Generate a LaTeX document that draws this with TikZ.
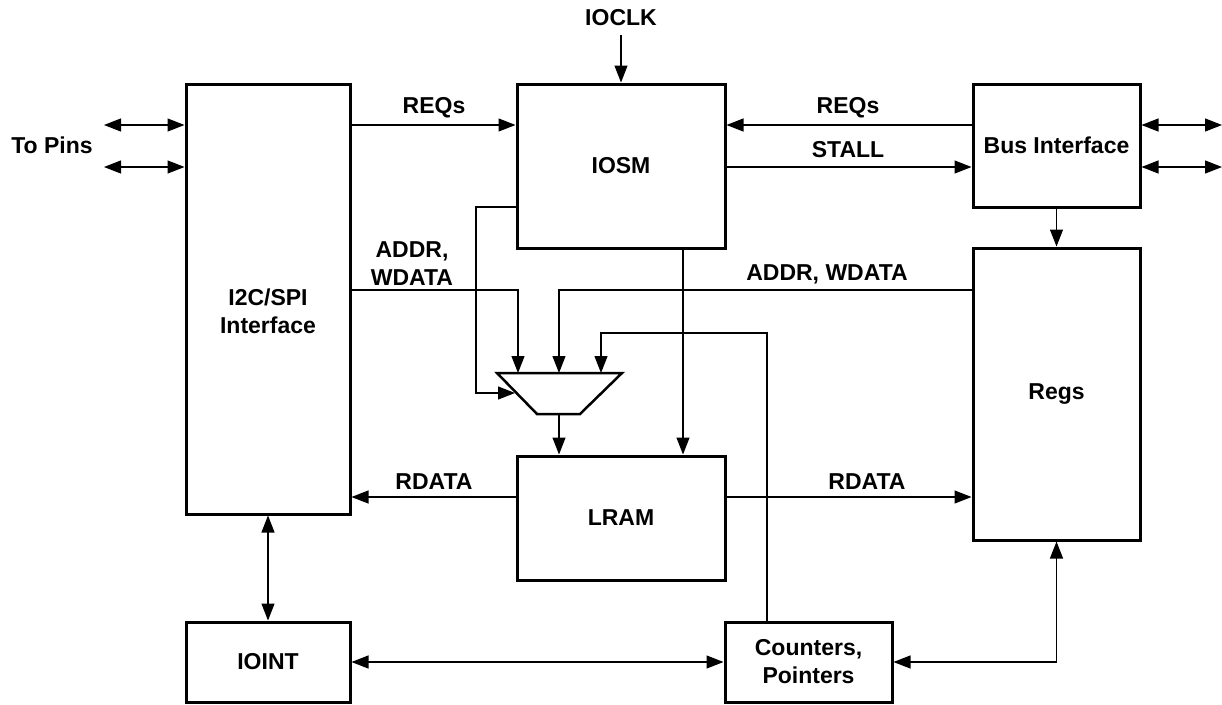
\documentclass[tikz,border=0pt]{standalone}
\usepackage{fontspec}
\setmainfont{Liberation Sans}
\usetikzlibrary{arrows.meta}
\begin{document}
\begin{tikzpicture}[x=1pt,y=-1pt,
  blk/.style={draw, line width=3pt, inner sep=0pt, fill=white},
  lbl/.style={font=\fontsize{23}{28}\selectfont\bfseries, align=center, inner sep=0pt},
  tip/.tip={Triangle[length=17pt,width=13pt]},
  conn/.style={line width=1.2pt, -tip},
  bi/.style={line width=1.2pt, tip-tip},
  wire/.style={line width=1.2pt}]
\useasboundingbox (0,0) rectangle (1222,704);

% level coordinates
\coordinate (yA) at (0,125);
\coordinate (yB) at (0,167);
\coordinate (yctl) at (0,207);
\coordinate (yaddr) at (0,290);
\coordinate (ycnt) at (0,333);
\coordinate (yrd) at (0,497);
\coordinate (xv) at (767,0);
\coordinate (xd) at (683,0);
\coordinate (pinL) at (104,0);
\coordinate (pinR) at (1222,0);

% blocks
\node[blk, minimum width=164pt, minimum height=430pt] (i2c) at (268,299) {};
\node[lbl] (i2ct) at (268,311) {I2C/SPI\\Interface};
\node[blk, lbl, minimum width=208pt, minimum height=164pt] (iosm) at (621,166) {IOSM};
\node[blk, lbl, minimum width=167pt, minimum height=123pt] (bus) at (1056.5,145.5) {Bus Interface};
\node[blk, lbl, minimum width=167pt, minimum height=292pt] (regs) at (1056.5,394) {Regs};
\node[blk, lbl, minimum width=208pt, minimum height=124pt] (lram) at (621,518) {LRAM};
\node[blk, lbl, minimum width=164pt, minimum height=80pt] (ioint) at (268,662) {IOINT};
\node[blk, lbl, minimum width=167pt, minimum height=80pt] (ctr) at (808.5,662) {Counters,\\Pointers};

% mux
\coordinate (mTL) at (497,373);
\coordinate (mTR) at (622,373);
\coordinate (mBR) at (580,414);
\coordinate (mBL) at (537,414);
\draw[line width=2.5pt, line join=miter] (mTL) -- (mTR) -- (mBR) -- (mBL) -- cycle;
\coordinate (mIn1) at (518,373);
\coordinate (mIn2) at (559,373);
\coordinate (mIn3) at (601,373);
\coordinate (mIn4) at (515,393);
\coordinate (mOut) at (559,414);
\coordinate (cA) at (476,207);
\coordinate (cB) at (476,393);

% labels
\node[lbl] (ioclk) at (621,18) {IOCLK};
\node[lbl] (topins) at (52,145) {To Pins};
\node[lbl] (reqL) at (434,108) {REQs};
\node[lbl] (reqR) at (848,108) {REQs};
\node[lbl] (stall) at (848,150) {STALL};
\node[lbl] (addrL) at (412,264) {ADDR,\\WDATA};
\node[lbl] (addrR) at (827,274) {ADDR, WDATA};
\node[lbl] (rdL) at (434,482) {RDATA};
\node[lbl] (rdR) at (867,482) {RDATA};

% connectors
\draw[conn] ([yshift=-9pt]ioclk.south) -- (iosm.north);
\draw[bi] (pinL |- yA) -- (i2c.west |- yA);
\draw[bi] (pinL |- yB) -- (i2c.west |- yB);
\draw[bi] (bus.east |- yA) -- (pinR |- yA);
\draw[bi] (bus.east |- yB) -- (pinR |- yB);
\draw[conn] (i2c.east |- yA) -- (iosm.west |- yA);
\draw[conn] (bus.west |- yA) -- (iosm.east |- yA);
\draw[conn] (iosm.east |- yB) -- (bus.west |- yB);
\draw[conn] (bus.south) -- (regs.north);
\draw[conn] (i2c.east |- yaddr) -| (mIn1);
\draw[conn] (regs.west |- yaddr) -| (mIn2);
\draw[conn] (ctr.north -| xv) -- (xv |- ycnt) -| (mIn3);
\draw[conn] (iosm.west |- yctl) -- (cA) -- (cB) -- (mIn4);
\draw[conn] (mOut) -- (lram.north -| mOut);
\draw[conn] (iosm.south -| xd) -- (lram.north -| xd);
\draw[conn] (lram.west |- yrd) -- (i2c.east |- yrd);
\draw[conn] (lram.east |- yrd) -- (regs.west |- yrd);
\draw[bi] (i2c.south) -- (ioint.north);
\draw[bi] (ioint.east) -- (ctr.west);
\draw[bi] (ctr.east) -| (regs.south);
\end{tikzpicture}
\end{document}
